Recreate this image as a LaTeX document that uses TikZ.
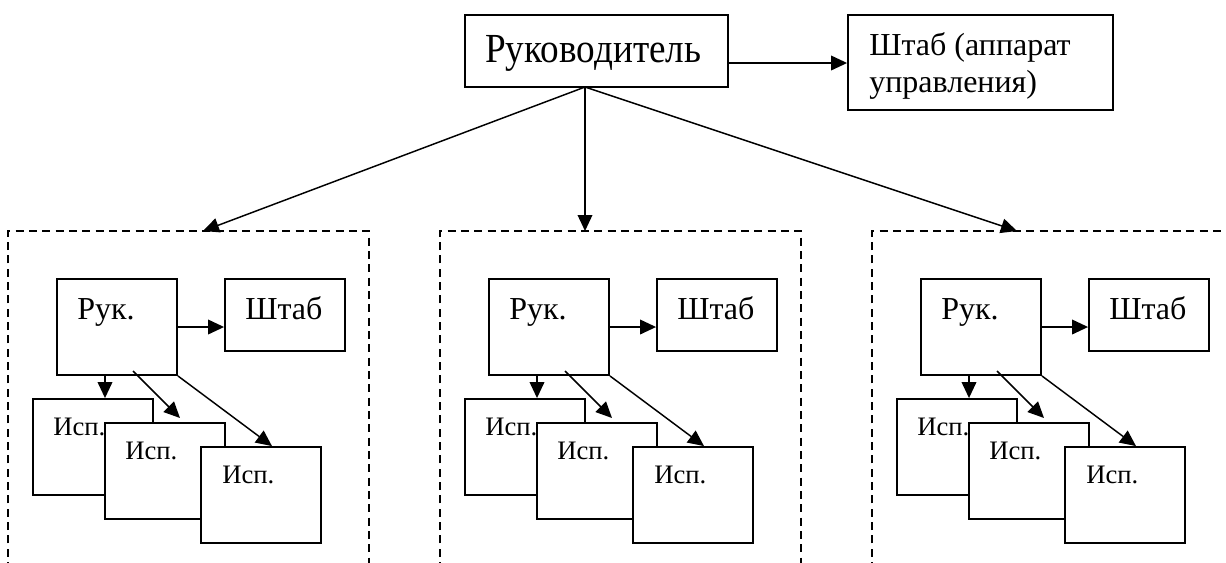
\documentclass[tikz,border=0pt]{standalone}
\usepackage{fontspec}
\setmainfont{Liberation Serif}
\newfontfamily\condserif[FakeStretch=0.9]{Liberation Serif}
\usetikzlibrary{arrows.meta,fit}
\begin{document}
\begin{tikzpicture}[x=0.75pt,y=-0.75pt,
  box/.style={draw,line width=1.4pt,fill=white,inner sep=0pt},
  arr/.style={line width=1.1pt,-{Triangle[length=12pt,width=11pt]}},
  dbox/.style={line width=1.1pt,dash pattern=on 6pt off 4pt},
  txt/.style={inner sep=0pt,anchor=base west},
  big/.style={font=\condserif\fontsize{31}{36}\selectfont},
  mid/.style={font=\fontsize{24}{28}\selectfont},
  sm/.style={font=\fontsize{20}{24}\selectfont}]
\useasboundingbox (0,0) rectangle (1226,562);
\clip (0,0) rectangle (1226,562);
% top level
\node[box,fit={(465,15) (728,87)}] (top) {};
\node[txt,big] (toptxt) at (485,62) {Руководитель};
\node[box,fit={(848,15) (1113,110)}] (hq) {};
\node[txt,mid] (hqa) at (869,55) {Штаб (аппарат};
\node[txt,mid] (hqb) at (869,92) {управления)};
\draw[arr] (top.east |- 0,63) -- (hq.west |- 0,63);
\coordinate (apex) at (585,87);
\coordinate (t0) at (203,231);
\coordinate (t1) at (585,231);
\coordinate (t2) at (1017,231);
\draw[arr] (apex) -- (t0);
\draw[arr] (apex) -- (t1);
\draw[arr] (apex) -- (t2);
% groups
\foreach \i/\dx in {0/0,1/432,2/864}{
  \begin{scope}[shift={(\dx,0)}]
    \draw[dbox] (8,570) -- (8,231) -- (369,231) -- (369,570);
    \node[box,fit={(57,279) (177,375)}] (ruk\i) {};
    \node[txt,mid] (ruktxt\i) at (77,319) {Рук.};
    \node[box,fit={(225,279) (345,351)}] (st\i) {};
    \node[txt,mid] (sttxt\i) at (245,319) {Штаб};
    \draw[arr] (ruk\i.east |- 0,327) -- (st\i.west |- 0,327);
    \node[box,fit={(33,399) (153,495)}] (ia\i) {};
    \node[txt,sm] (iatxt\i) at (53,435) {Исп.};
    \node[box,fit={(105,423) (225,519)}] (ib\i) {};
    \node[txt,sm] (ibtxt\i) at (125,459) {Исп.};
    \node[box,fit={(201,447) (321,543)}] (ic\i) {};
    \node[txt,sm] (ictxt\i) at (222,483) {Исп.};
    \draw[arr] (ruk\i.south -| 105,0) -- (ia\i.north -| 105,0);
    \coordinate (s2\i) at (133,371);
    \coordinate (e2\i) at (180,418);
    \draw[arr] (s2\i) -- (e2\i);
    \draw[arr] (ruk\i.south east) -- (ic\i.north -| 272,0);
  \end{scope}
}
\end{tikzpicture}
\end{document}
